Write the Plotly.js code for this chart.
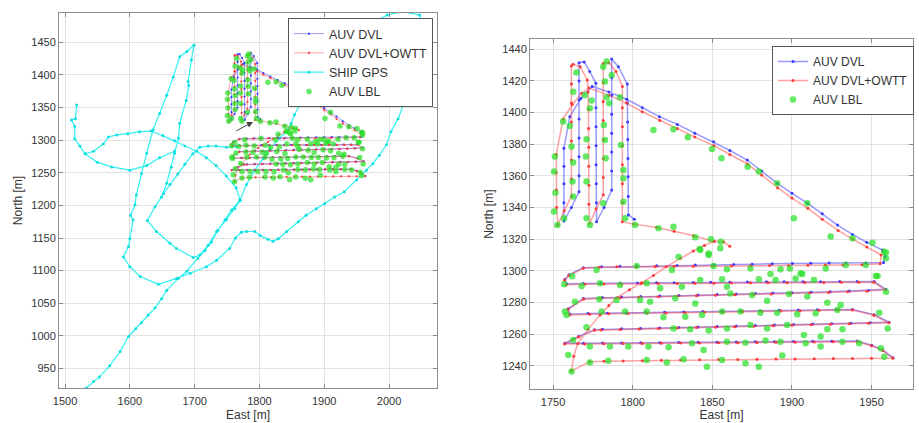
<!DOCTYPE html>
<html><head><meta charset="utf-8">
<script src="https://cdn.plot.ly/plotly-3.0.1.min.js"></script>
<style>body{margin:0;background:#fff}</style>
</head><body><div id="chart" style="width:919px;height:423px"></div>
<script>
// ---------- AUV DVL (blue) ----------
const dvlEast = [1801,1797.3,1797.2,1797.1,1797,1796.9,1796.8,1796.7,1796.6,1791,1786.8,
 1786.8,1786.8,1786.8,1786.8,1786.8,1786.8,1786.8,1782,1777.3,
 1777.2,1777.1,1777,1777,1777,1776.9,1776.9,1773,1769.5,1766.3,
 1766.3,1766.3,1766.3,1766.3,1766.3,1766.3,1766.3,1761.5,1756.8,
 1756.8,1756.8,1756.8,1756.8,1760.5,1767.5,1774.5,
 1785,1796.2,1806,1816.8,1828,1839,1850.8,1861,1871.9,1881,1890.8,1900,1909.7,1919,1928.6,1938,1947,1956.9,1958.5,1957.5,
 1946.4,1933.8,1923.3,1911.8,1900.2,1887.6,1875,1863.4,1850.8,1839.3,1827.8,1815.1,1802.5,1792,1780.5,1768.9,1760,1757.4,1758.4,
 1769,1780,1792,1803,1815,1826,1838,1849,1861,1872,1884,1895,1907,1918,1930,1941,1951.6,1959,
 1948,1936,1924,1912,1900,1888,1877,1865,1853,1841,1829,1817,1805,1793,1781,1769,1759.5,1760.5,
 1772,1784,1796,1808,1820,1832,1844,1856,1868,1880,1892,1904,1916,1928,1938,1951.6,1961,
 1949,1937,1925,1913,1901,1889,1877,1865,1853,1841,1829,1817,1805,1793,1781,1776,1766,1757.4,
 1769,1781,1793,1805,1817,1829,1841,1853,1865,1877,1889,1901,1913,1925,1941,1950,1957,1963.5];
const dvlNorth = [1332.5,1335.3,1347,1359.5,1371,1383,1394,1406,1418,1429,1433.8,
 1422,1411,1399,1387,1375,1363,1351,1340,1331,
 1343,1355,1367,1379,1391,1403,1418.5,1426,1432,1431.5,
 1420,1408,1396,1384,1372,1360,1350,1340,1331.5,
 1343,1355,1366,1377.5,1397.4,1409,1416.5,
 1413,1408.4,1403,1397.4,1392.5,1387,1381.6,1376,1370,1363,1355.3,1349,1342.7,1336,1328.9,1323,1318,1313.1,1309,1305.2,
 1305,1305,1304.9,1304.8,1304.6,1304.4,1304.2,1304,1303.8,1303.6,1303.4,1303.2,1303,1302.8,1302.5,1302,1297.5,1294.5,1291.8,
 1292,1292.1,1292.2,1292.3,1292.4,1292.5,1292.6,1292.7,1292.8,1292.9,1293,1293,1293.1,1293.1,1293.2,1293.2,1293.2,1288.3,
 1287.6,1287.2,1286.8,1286.5,1286.2,1285.9,1285.6,1285.3,1285,1284.7,1284.4,1284.1,1283.8,1283.5,1283.2,1282.5,1276,1272.5,
 1273,1273.2,1273.4,1273.6,1273.8,1274,1274.2,1274.4,1274.6,1274.8,1275,1275.2,1275.4,1275.6,1275.6,1272.3,1267.5,
 1267.2,1266.9,1266.6,1266.3,1266,1265.7,1265.4,1265.1,1264.8,1264.5,1264.2,1263.9,1263.6,1263.3,1263,1262.8,1258.5,1254.2,
 1254.2,1254.3,1254.4,1254.5,1254.6,1254.7,1254.8,1254.9,1255,1255.1,1255.2,1255.3,1255.4,1255.5,1255.6,1253,1250,1245];

// ---------- AUV DVL+OWTT (red) ----------
const owttEast = [1851,1838.2,1826,1815,1800.4,1793.5,
 1793.5,1793.5,1793.5,1793.5,1793.5,1793.5,1793.5,1789.5,1785,1781.5,
 1781.5,1781.5,1781.5,1781.5,1781.5,1781.5,1781.5,1777,1773,
 1772.5,1772.5,1772.4,1772.4,1772.3,1772.2,1772,1771.5,1767,1762.5,1761.5,
 1761.5,1761.5,1761.5,1761.5,1761.5,1761.5,1761.5,1757,1753,
 1752.2,1752.1,1752,1752,1756.3,1762,1767.9,1772.5,
 1785,1796,1806,1817,1828,1839,1851,1861,1872,1881,1891,1900,1910,1919,1929,1938,1947,1956,1955.4,
 1944,1932,1921,1910,1898,1886,1874,1862,1850,1838,1826,1814,1802,1790,1779,1769,1760,1757.2,1758.2,
 1770,1782,1793,1805,1816,1828,1839,1851,1862,1874,1885,1897,1908,1920,1931,1942,1951.4,1958.8,
 1947,1935,1923,1911,1899,1887,1876,1864,1852,1840,1828,1816,1804,1792,1780,1769,1759.3,1760.3,
 1773,1785,1797,1809,1821,1833,1845,1857,1869,1881,1893,1905,1917,1929,1938,1951.4,1960.8,
 1948,1936,1924,1912,1900,1888,1876,1864,1852,1840,1828,1816,1804,1792,1780,1776,1766,1757.2,
 1770,1782,1794,1806,1818,1830,1842,1854,1866,1878,1890,1902,1914,1926,1941,1950,1957,1963.3,
 1950,1938,1926,1914,1902,1890,1878,1866,1854,1842,1830,1818,1806,1794,1782,1773,1761.6,
 1763,1765.5,1772,1779.5,1785,1790,1798,1805.7,1813,1821,1830,1838,1845,1851,1857,1861];
const owttNorth = [1318.6,1322.2,1325,1327.3,1329.5,1331,
 1343,1355,1367,1379,1391,1403,1416.5,1426,1431.5,1431,
 1419,1407,1395,1383,1371,1359,1348,1339,1330,
 1342,1354,1366,1378,1390,1402,1413,1420.5,1429,1430.5,1429.5,
 1418,1406,1394,1382,1370,1358,1347,1338,1329,
 1340,1351,1362,1373.5,1396,1405,1412.2,1415.5,
 1411,1406,1400.5,1395,1390,1384.5,1379,1373.5,1367.5,1360.5,1352.5,1346,1339.5,1332.5,1325.5,1320,1315,1310,1304.5,
 1303.8,1303.7,1303.6,1303.5,1303.4,1303.3,1303.2,1303.1,1303,1302.9,1302.8,1302.7,1302.6,1302.5,1302.2,1301.6,1297,1294,1291.2,
 1291.5,1291.6,1291.7,1291.8,1291.9,1292,1292.1,1292.2,1292.3,1292.4,1292.5,1292.5,1292.6,1292.6,1292.7,1292.7,1292.7,1287.8,
 1287.1,1286.7,1286.3,1286,1285.7,1285.4,1285.1,1284.8,1284.5,1284.2,1283.9,1283.6,1283.3,1283,1282.7,1282,1275.6,1272,
 1272.6,1272.8,1273,1273.2,1273.4,1273.6,1273.8,1274,1274.2,1274.4,1274.6,1274.8,1275,1275.2,1275.2,1271.9,1267.1,
 1266.8,1266.5,1266.2,1265.9,1265.6,1265.3,1265,1264.7,1264.4,1264.1,1263.8,1263.5,1263.2,1262.9,1262.6,1262.4,1258.1,1253.8,
 1253.8,1253.9,1254,1254.1,1254.2,1254.3,1254.4,1254.5,1254.6,1254.7,1254.8,1254.9,1255,1255.1,1255.2,1252.6,1249.6,1244.8,
 1244.7,1244.6,1244.5,1244.4,1244.3,1244.2,1244.1,1244,1243.9,1243.8,1243.6,1243.4,1243.2,1243,1242.8,1242.5,1236.8,
 1246,1254,1263,1272,1278,1283,1288,1292.5,1297,1302.5,1308,1312.5,1316,1318.6,1318.3,1315.5];

// ---------- AUV LBL fixes (green) ----------
const lblEast = [
 1751.1,1750.6,1751.5,1750.6,1752.7,1756.9,1756.3,1760.5,1762.6,1762.2,1762.6,1761.6,
 1764.7,1762.6,1771.0,1770.6,1771.0,1771.0,1773.1,1770.0,1773.1,1774.2,
 1781.5,1783.6,1782.6,1783.6,1781.9,1782.6,1783.0,1781.5,1786.8,1785.3,
 1792.0,1792.6,1794.1,1794.1,1794.1,1795.2,1801.5,1816.2,1825.6,1839.3,1849.1,1855.4,1842.0,1847.7,
 1813.0,1825.6,1834.6,1849.8,1855.7,1872.2,1879.2,1890.7,1901.2,1909.6,1924.3,1938.0,1950.6,1957.9,1959.0,1953.7,
 1762.0,1757.0,1777.3,1802.5,1824.6,1828.8,1847.7,1842.4,1855.0,1850.8,1859.2,1873.9,1892.8,1898.7,1906.5,1921.2,1933.8,1946.4,1952.7,1959.0,
 1767.9,1779.4,1792.0,1808.8,1817.2,1830.9,1842.4,1856.1,1859.2,1879.2,1886.5,1889.7,1902.3,1905.4,1913.8,1959.0,
 1763.7,1779.0,1789.9,1804.6,1810.9,1826.7,1839.3,1861.3,1875.0,1884.4,1898.1,1909.6,1922.2,1930.6,
 1757.4,1758.4,1780.5,1795.2,1808.8,1819.3,1833.0,1843.5,1856.1,1867.6,1880.2,1890.7,1903.3,1914.9,1928.5,1954.8,
 1771.0,1825.6,1836.1,1847.7,1859.2,1873.9,1884.4,1897.0,1907.5,1918.0,1922.2,1931.7,1960.1,
 1762.6,1773.1,1785.7,1797.2,1809.9,1822.5,1837.2,1844.5,1859.2,1870.8,1883.4,1892.8,1908.6,1918.0,1931.7,1942.2,1955.8,
 1759.5,1761.6,1773.1,1784.7,1808.8,1821.4,1831.9,1846.6,1856.1,1870.8,1879.2,1893.9,1957.9];
const lblNorth = [
 1372.2,1362.7,1349.4,1337.4,1329.0,1333.2,1394.3,1391.5,1368.4,1356.4,1346.9,1378.5,
 1425.3,1413.2,1383.1,1372.2,1356.4,1333.2,1329.0,1411.1,1402.7,1407.6,
 1429.0,1432.2,1419.6,1409.7,1392.2,1382.7,1371.1,1342.7,1423.8,1405.9,
 1409.7,1379.5,1363.7,1358.5,1343.7,1333.2,1329.0,1326.9,1327.9,1321.2,1319.9,1318.4,1313.8,1310.0,
 1389.0,1389.4,1384.4,1377.0,1371.1,1365.8,1362.7,1355.3,1333.2,1342.7,1321.6,1320.5,1317.8,1312.1,1307.9,1296.7,
 1296.5,1291.5,1300.5,1303.0,1300.5,1308.9,1311.0,1313.2,1314.2,1303.0,1300.9,1301.5,1300.9,1301.5,1298.0,1301.5,1303.7,1303.7,1296.7,1311.5,
 1290.4,1292.1,1291.0,1292.1,1288.9,1289.9,1294.2,1294.6,1289.9,1294.6,1298.0,1294.2,1295.2,1298.4,1294.2,1286.8,
 1280.5,1282.0,1281.5,1281.5,1280.5,1282.6,1279.4,1285.7,1284.7,1281.1,1285.3,1283.7,1279.8,1278.4,
 1274.2,1272.0,1274.2,1274.2,1274.2,1270.6,1271.0,1272.0,1274.2,1274.2,1273.5,1273.5,1272.6,1273.1,1275.2,1273.5,
 1264.3,1263.6,1263.0,1262.2,1263.6,1265.7,1263.6,1265.7,1259.4,1258.4,1263.0,1263.0,1263.6,
 1256.3,1252.1,1252.1,1252.1,1252.1,1251.7,1254.2,1250.0,1255.2,1254.6,1255.9,1255.2,1254.2,1252.1,1255.2,1254.2,1251.0,
 1246.8,1236.3,1242.0,1243.2,1243.7,1242.0,1244.1,1239.4,1243.7,1241.5,1239.4,1246.4,1245.7];

// ---------- SHIP GPS (cyan), null separates track pieces ----------
const shipEast = [1533,1544,1553,1569,1585,1598,1609,1618,1628,1639,1649,1657,1675,1688,1705,1716,1726,1736,1747,1757,1770,
 1780,1793,1806,1816,1831,1842,1849,1854,1865,1872,1890,1930,1975,1997,2021,2047,2055,2040,2032,2026,2014,2003,1996,1985,1975,1965,1950,
 1931,1916,1901,1888,1872,1860,1842,1829,1821,1813,1801,1793,1780,1772,1763,1754,1734,1718,1693,1672,1644,1616,1600,1590,
 1598,1600,1605,1601,1608,1610,1618,1626,1636,1646,1657,1667,1677,1688,1699,1695,1690,1691,1687,1677,1675,1669,1664,1657,1649,
 1639,1627,1641,1662,1672,1698,1708,1721,1734,1749,1762,1770, null,
 1765,1749,1733,1721,1708,1697,1685,1674,1662,1652, null,
 1518,1516,1510,1515,1515,1523,1531,1544,1559,1567,1580,1597,1615,1633,1651,1669,1685,1703,1718,1733,1749,1764,1770, null,
 1531,1550,1572,1600,1626,1646,1669];
const shipNorth = [920,930,937,954,976,999,1011,1020,1032,1043,1057,1070,1088,1099,1119,1131,1144,1162,1178,1193,1208,
 1232,1254,1272,1287,1303,1313,1326,1339,1359,1369,1395,1440,1480,1492,1497,1492,1450,1400,1372,1364,1333,1313,1293,1277,1264,1254,1239,
 1221,1213,1203,1195,1185,1175,1160,1149,1145,1148,1154,1160,1160,1159,1150,1134,1116,1106,1096,1088,1079,1091,1106,1121,
 1137,1149,1178,1185,1201,1216,1249,1280,1316,1341,1369,1397,1428,1436,1446,1423,1390,1384,1361,1326,1303,1280,1259,1234,1213,
 1198,1177,1160,1142,1134,1120,1124,1139,1160,1178,1195,1207, null,
 1290,1289,1291,1291,1289,1279,1263,1248,1232,1218, null,
 1354,1333,1331,1321,1302,1291,1279,1283,1294,1305,1308,1310,1313,1314,1307,1299,1291,1283,1273,1261,1245,1227,1209, null,
 1279,1266,1259,1254,1261,1273,1283];

// ---------- ticks ----------
const leftEastTicks = [1500,1600,1700,1800,1900,2000];
const leftNorthTicks = [950,1000,1050,1100,1150,1200,1250,1300,1350,1400,1450];
const rightEastTicks = [1750,1800,1850,1900,1950];
const rightNorthTicks = [1240,1260,1280,1300,1320,1340,1360,1380,1400,1420,1440];

const FONT = 'Liberation Sans, Arial, sans-serif';

function auvTraces(xa, ya, leg, small) {
  return [
    {x: dvlEast, y: dvlNorth, xaxis: xa, yaxis: ya, legend: leg, name: 'AUV DVL', legendrank: 1,
     mode: 'lines+markers', line: {color: 'rgba(70,70,255,0.55)', width: small ? 1 : 1.5},
     marker: {color: '#3a3aff', size: small ? 2.2 : 3}},
    {x: owttEast, y: owttNorth, xaxis: xa, yaxis: ya, legend: leg, name: 'AUV DVL+OWTT', legendrank: 2,
     mode: 'lines+markers', line: {color: 'rgba(255,70,70,0.5)', width: small ? 1 : 1.5},
     marker: {color: '#ff3a3a', size: small ? 2.2 : 3}},
    {x: lblEast, y: lblNorth, xaxis: xa, yaxis: ya, legend: leg, name: 'AUV LBL', legendrank: 4,
     mode: 'markers', marker: {color: 'rgba(40,225,40,0.72)', size: small ? 5.5 : 6.5}}
  ];
}

const shipTrace = {x: shipEast, y: shipNorth, xaxis: 'x', yaxis: 'y', legend: 'legend', name: 'SHIP GPS',
  legendrank: 3, mode: 'lines+markers', connectgaps: false,
  line: {color: '#30f2f2', width: 1.2}, marker: {color: '#10e0e0', size: 3}};

const data = [shipTrace].concat(auvTraces('x', 'y', 'legend', true), auvTraces('x2', 'y2', 'legend2', false));

function axis(extra) {
  return Object.assign({
    showgrid: true, gridcolor: '#e2e2e2', gridwidth: 1, zeroline: false,
    showline: true, linecolor: '#8c8c8c', linewidth: 1, mirror: 'ticks',
    ticks: 'inside', ticklen: 4, tickcolor: '#8c8c8c',
    tickfont: {family: FONT, size: 11, color: '#333'}, automargin: false, tickmode: 'array'
  }, extra);
}

const layout = {
  width: 919, height: 423, margin: {l: 0, r: 0, t: 0, b: 0},
  paper_bgcolor: '#fff', plot_bgcolor: '#fff', showlegend: true,
  font: {family: FONT, color: '#333'},
  xaxis: axis({domain: [59/919, 437/919], range: [1490.7, 2074], tickvals: leftEastTicks, anchor: 'y',
    ticklabelstandoff: 3,
    title: {text: 'East [m]', font: {size: 12, family: FONT, color: '#333'}, standoff: 4}}),
  yaxis: axis({domain: [1 - 388/423, 1 - 13/423], range: [920, 1495], tickvals: leftNorthTicks, anchor: 'x',
    title: {text: 'North [m]', font: {size: 12, family: FONT, color: '#333'}, standoff: 6}}),
  xaxis2: axis({domain: [530/919, 913/919], range: [1735.5, 1976], tickvals: rightEastTicks, anchor: 'y2',
    ticklabelstandoff: 3,
    title: {text: 'East [m]', font: {size: 12, family: FONT, color: '#333'}, standoff: 3}}),
  yaxis2: axis({domain: [1 - 389/423, 1 - 39.3/423], range: [1225.3, 1446.3], tickvals: rightNorthTicks, anchor: 'x2',
    title: {text: 'North [m]', font: {size: 12, family: FONT, color: '#333'}, standoff: 6}}),
  legend: {x: 288/919, y: 1 - 18/423, xanchor: 'left', yanchor: 'top', bgcolor: '#fff',
    bordercolor: '#555', borderwidth: 1, font: {family: FONT, size: 12.5, color: '#333'}, tracegroupgap: 0,
    traceorder: 'normal'},
  legend2: {x: 772/919, y: 1 - 46/423, xanchor: 'left', yanchor: 'top', bgcolor: '#fff',
    bordercolor: '#555', borderwidth: 1, font: {family: FONT, size: 12, color: '#333'}, tracegroupgap: 0,
    traceorder: 'normal'},
  annotations: [{xref: 'x', yref: 'y', axref: 'x', ayref: 'y', x: 1790, y: 1328, ax: 1762, ay: 1313,
    text: '', showarrow: true, arrowhead: 2, arrowsize: 1.2, arrowwidth: 1, arrowcolor: '#444'}]
};

Plotly.newPlot('chart', data, layout, {displayModeBar: false, staticPlot: true});
</script>
</body></html>
